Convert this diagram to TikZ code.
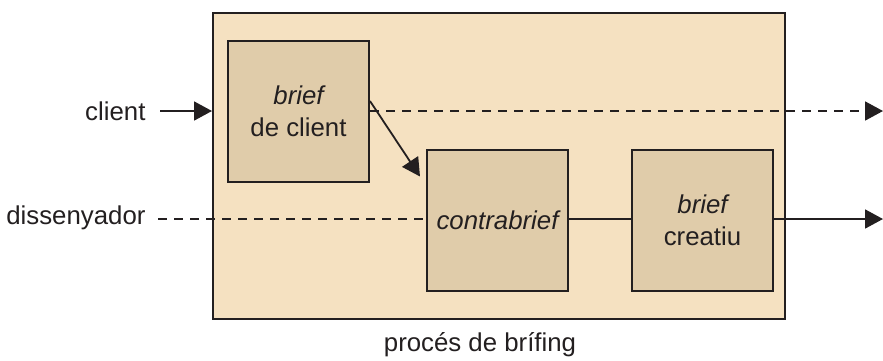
\documentclass[tikz,border=0pt]{standalone}
\usepackage{fontspec}
\setmainfont{Liberation Sans}
\usetikzlibrary{arrows.meta}
\definecolor{outerfill}{HTML}{F5E1C1}
\definecolor{innerfill}{HTML}{E0CCAA}
\definecolor{ink}{HTML}{231F20}
\begin{document}
\begin{tikzpicture}[x=1pt,y=-1pt,
  every node/.style={font=\fontsize{25.8}{32}\selectfont, text=ink},
  frame/.style={draw=ink, line width=2pt, fill=outerfill, inner sep=0pt, minimum width=572pt, minimum height=306pt},
  stepbox/.style={draw=ink, line width=2pt, fill=innerfill, inner sep=0pt, minimum width=141pt, minimum height=141pt, align=center},
  conn/.style={draw=ink, line width=1.8pt},
  tip/.style={-{Triangle[length=18pt,width=19pt]}},
  dashedline/.style={dash pattern=on 9pt off 7pt}]
\useasboundingbox (0,0) rectangle (883,360);
\node[frame] (outer) at (499,166) {};
\node[stepbox] (b1) at (298.5,111) {\itshape brief\\de client};
\node[stepbox] (b2) at (497.5,220) {\itshape contrabrief};
\node[stepbox] (b3) at (702.5,220) {\itshape brief\\creatiu};
\node[anchor=east] (client) at (149,111) {client};
\node[anchor=east] (dis) at (149,218) {dissenyador};
\node (proc) at (480,345) {procés de brífing};
\coordinate (c1) at (212,111);
\coordinate (e1) at (883,111);
\coordinate (e2) at (883,219);
\coordinate (d1) at (158,219);
\draw[conn,tip] (client.east) ++(11,0) -- (c1);
\draw[conn,tip,dashedline] (b1.east |- e1) -- (e1);
\draw[conn,dashedline] (d1) -- (b2.west |- d1);
\draw[conn] (b2.east |- d1) -- (b3.west |- d1);
\draw[conn,tip] (b3.east |- e2) -- (e2);
\draw[conn,tip] ([yshift=10pt]b1.east) -- ([xshift=-6pt,yshift=-28pt]b2.north west);
\end{tikzpicture}
\end{document}
